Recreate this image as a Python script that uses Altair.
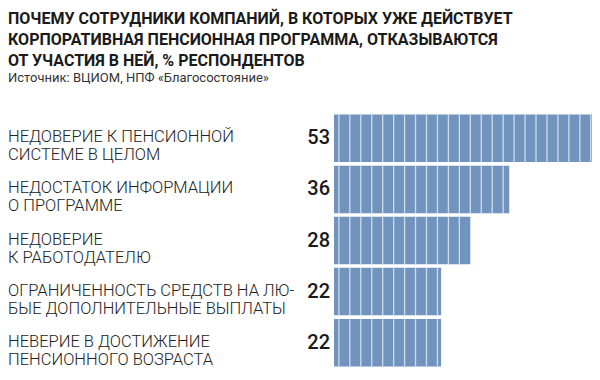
import altair as alt
import numpy as np
import pandas as pd

title_lines = [
    "ПОЧЕМУ СОТРУДНИКИ КОМПАНИЙ, В КОТОРЫХ УЖЕ ДЕЙСТВУЕТ",
    "КОРПОРАТИВНАЯ ПЕНСИОННАЯ ПРОГРАММА, ОТКАЗЫВАЮТСЯ",
    "ОТ УЧАСТИЯ В НЕЙ, % РЕСПОНДЕНТОВ",
]
source = "Источник: ВЦИОМ, НПФ «Благосостояние»"

categories = [
    "НЕДОВЕРИЕ К ПЕНСИОННОЙ\nСИСТЕМЕ В ЦЕЛОМ",
    "НЕДОСТАТОК ИНФОРМАЦИИ\nО ПРОГРАММЕ",
    "НЕДОВЕРИЕ\nК РАБОТОДАТЕЛЮ",
    "ОГРАНИЧЕННОСТЬ СРЕДСТВ НА ЛЮ-\nБЫЕ ДОПОЛНИТЕЛЬНЫЕ ВЫПЛАТЫ",
    "НЕВЕРИЕ В ДОСТИЖЕНИЕ\nПЕНСИОННОГО ВОЗРАСТА",
]
values = [53, 36, 28, 22, 22]

BAR_COLOR = "#7194be"
STRIPE_COLOR = "#d0dcea"
STRIPE_START = 1.0
STRIPE_STEP = 2.25

df = pd.DataFrame({"cat": categories, "val": values})

stripe_rows = []
for c, v in zip(categories, values):
    for p in np.arange(STRIPE_START, v, STRIPE_STEP):
        stripe_rows.append({"cat": c, "pos": float(p)})
stripes = pd.DataFrame(stripe_rows)

ysc = alt.Scale(domain=categories, paddingInner=0.07, paddingOuter=0.03)
xsc = alt.Scale(domain=[0, 53], range=[326, 584])
yenc = alt.Y("cat:N", scale=ysc, axis=None, sort=categories)

bars = alt.Chart(df).mark_bar(color=BAR_COLOR).encode(
    x=alt.X("val:Q", scale=xsc, axis=None),
    x2=alt.datum(0),
    y=yenc,
)

stripe_marks = alt.Chart(stripes).mark_tick(
    color=STRIPE_COLOR, thickness=1.3, size=47, opacity=1
).encode(
    x=alt.X("pos:Q", scale=xsc, axis=None),
    y=yenc,
)

labels = alt.Chart(df).mark_text(
    align="left", baseline="middle", font="Roboto", fontWeight=300,
    fontSize=16.5, lineHeight=18, color="#222222", lineBreak="\n", dy=-1,
).encode(
    x=alt.value(0),
    y=yenc,
    text="cat:N",
)

nums = alt.Chart(df).mark_text(
    align="right", baseline="middle", font="Roboto", fontWeight=500,
    fontSize=20, color="#1a1a1a",
).encode(
    x=alt.value(322),
    y=yenc,
    text="val:Q",
)

chart = alt.layer(bars, stripe_marks, labels, nums).properties(
    width=584,
    height=255,
    padding={"top": 3, "left": 0, "right": 0, "bottom": 0},
    title=alt.Title(
        text=title_lines,
        subtitle=source,
        anchor="start",
        frame="group",
        font="Roboto",
        fontWeight="bold",
        fontSize=16,
        lineHeight=21,
        color="#1a1a1a",
        subtitleFont="Roboto",
        subtitleFontSize=13,
        subtitleFontWeight="normal",
        subtitleColor="#333333",
        subtitlePadding=3,
        offset=28,
    ),
).configure_view(stroke=None)

chart.save("out.html", embed_options={"renderer": "svg", "actions": False})
